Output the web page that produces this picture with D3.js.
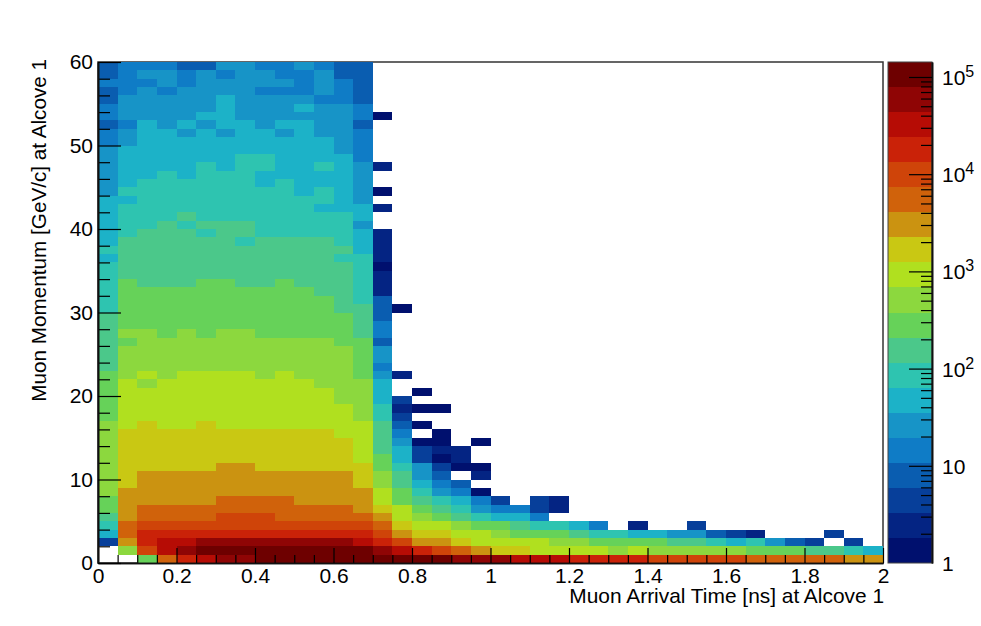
<!DOCTYPE html>
<html>
<head>
<meta charset="utf-8">
<script src="https://cdn.jsdelivr.net/npm/d3@7"></script>
<style>
html,body{margin:0;padding:0;background:#fff;}
svg{display:block;}
text{font-family:"Liberation Sans",Arial,sans-serif;fill:#000;}
</style>
</head>
<body>
<div id="chart"></div>
<script>
const xBinWidth = 0.05;
const yBinWidth = 1;
const xMajorTicks = [0, 0.2, 0.4, 0.6, 0.8, 1, 1.2, 1.4, 1.6, 1.8, 2];
const yMajorTicks = [0, 10, 20, 30, 40, 50, 60];
const xTitle = "Muon Arrival Time [ns] at Alcove 1";
const yTitle = "Muon Momentum [GeV/c] at Alcove 1";
const zMax = 142600;
const palette = ["#00106e","#042483","#073f9a","#0a5db0","#0f7cc6","#1794c7","#1cb2c8","#2ec4b0","#4bc88a","#66d259",
                 "#8cd83e","#b0e01f","#c9c813","#cb9311","#d0620b","#cf4409","#ca2208","#b60c05","#8f0505","#6e0000"];

// Counts per (time bin) for each momentum bin, listed from the top row (59-60 GeV/c) to the bottom row (0-1 GeV/c).
const counts = [
[8,14,14,14,8,8,26,26,14,14,26,14,8,8],
[8,14,26,26,14,26,14,26,26,14,14,26,8,8],
[14,14,14,26,14,26,26,26,26,26,14,26,14,8],
[8,14,26,14,26,26,26,26,14,14,14,26,14,8],
[8,26,26,26,26,26,47,26,26,26,26,14,14,8],
[14,26,26,26,26,26,47,26,26,26,47,26,26,14],
[14,26,26,26,26,47,47,26,26,26,26,26,26,14,1],
[8,14,47,26,47,26,47,47,26,47,47,26,26,8],
[14,26,47,47,26,47,26,47,47,26,47,26,26,14],
[14,26,47,47,47,47,47,47,47,47,47,47,26,14],
[26,47,47,47,47,47,47,47,47,47,47,47,26,14],
[26,47,47,47,47,47,47,86,86,47,47,47,47,14],
[26,47,47,47,47,86,47,86,86,47,47,86,47,26,2],
[26,47,47,86,47,86,86,86,47,47,47,47,47,26],
[26,47,86,86,86,86,86,86,47,86,47,47,47,26],
[26,86,86,86,86,86,86,86,86,86,47,86,47,26,1],
[47,47,86,86,86,86,86,86,86,86,86,86,47,26],
[47,86,86,86,86,86,86,86,86,86,86,47,47,47,2],
[47,86,86,86,155,86,86,86,86,86,86,86,86,47],
[47,86,86,155,86,155,155,155,86,86,86,86,86,26],
[47,86,155,155,155,86,155,155,86,86,86,86,86,47,2],
[47,155,155,155,155,155,155,86,155,155,155,155,86,47,2],
[86,155,155,155,155,155,155,155,155,155,155,155,155,47,2],
[47,155,155,155,155,155,155,155,155,155,155,155,86,86,2],
[86,155,155,155,155,155,155,155,155,155,155,155,155,86,1],
[86,155,155,155,155,155,155,155,155,155,155,155,155,86,2],
[86,280,155,155,155,280,280,155,155,280,155,155,155,86,2],
[86,280,280,280,280,280,280,280,280,280,280,155,155,86,2],
[86,280,280,280,280,280,280,280,280,280,280,280,155,86,8],
[86,280,280,280,280,280,280,280,280,280,280,280,155,155,8,1],
[155,280,280,280,280,280,280,280,280,280,280,280,280,155,8],
[155,280,280,280,280,280,280,280,280,280,280,280,280,155,14],
[155,510,510,280,510,280,510,510,280,280,280,280,280,155,14],
[155,280,510,510,510,510,510,510,510,510,510,510,280,280,8],
[155,510,510,510,510,510,510,510,510,510,510,510,510,280,26],
[155,510,510,510,510,510,510,510,510,510,510,510,510,280,26],
[155,510,510,510,510,510,510,510,510,510,510,510,510,280,14],
[280,510,920,510,920,920,920,920,510,920,510,510,510,280,26,2],
[280,920,510,920,920,920,920,920,920,920,920,510,510,510,47],
[280,920,920,920,920,920,920,920,920,920,920,920,510,510,47,0,1],
[280,920,920,920,920,920,920,920,920,920,920,920,510,510,47,4],
[280,920,920,920,920,920,920,920,920,920,920,920,920,510,86,2,1,1],
[280,920,920,920,920,920,920,920,920,920,920,920,920,510,86,4],
[510,920,1670,920,920,1670,920,920,920,920,920,920,920,920,155,8,1],
[510,1670,1670,1670,1670,1670,1670,1670,1670,1670,1670,1670,920,920,155,14,0,1],
[510,1670,1670,1670,1670,1670,1670,1670,1670,1670,1670,1670,1670,920,155,26,1,1,0,1],
[510,1670,1670,1670,1670,1670,1670,1670,1670,1670,1670,1670,1670,920,155,47,4,2,2],
[510,1670,1670,1670,1670,1670,1670,1670,1670,1670,1670,1670,1670,920,280,47,4,1,2],
[510,1670,1670,1670,1670,1670,3000,3000,1670,1670,1670,1670,1670,1670,280,86,26,4,1,1],
[510,1670,3000,3000,3000,3000,3000,3000,3000,3000,3000,3000,3000,1670,510,155,26,8,0,2],
[510,1670,3000,3000,3000,3000,3000,3000,3000,3000,3000,3000,3000,1670,510,155,47,14,8],
[510,3000,3000,3000,3000,3000,3000,3000,3000,3000,3000,3000,3000,3000,920,280,86,26,14,1],
[280,3000,3000,3000,3000,3000,5450,5450,5450,5450,3000,3000,3000,3000,920,280,155,86,47,14,4,0,4,2],
[280,3000,5450,5450,5450,5450,5450,5450,5450,5450,5450,5450,5450,3000,1670,920,280,155,86,26,14,14,4,2],
[155,3000,5450,5450,5450,5450,9900,9900,9900,5450,5450,5450,5450,5450,3000,920,510,280,155,86,47,47,14],
[86,5450,9900,9900,9900,9900,9900,9900,9900,9900,9900,9900,9900,9900,5450,1670,920,920,510,280,280,155,86,86,47,14,0,2,0,0,4],
[47,5450,17900,17900,17900,17900,17900,17900,17900,17900,17900,17900,17900,17900,9900,3000,1670,1670,920,920,510,280,280,280,155,86,86,47,47,26,26,8,4,2,0,0,0,4],
[4,3000,17900,32400,32400,58700,58700,58700,58700,58700,58700,58700,58700,32400,17900,9900,3000,3000,1670,920,920,920,920,510,510,280,280,280,280,155,155,86,47,86,26,8,4,0,4],
[0,510,9900,32400,58700,106000,106000,106000,106000,106000,106000,106000,106000,106000,58700,32400,17900,9900,5450,3000,1670,1670,920,920,920,920,510,920,510,510,510,510,510,280,280,280,155,155,86,47],
[0,0,280,5450,17900,32400,58700,58700,106000,106000,106000,106000,106000,106000,106000,106000,106000,106000,58700,58700,58700,32400,32400,32400,17900,17900,17900,17900,9900,9900,9900,9900,9900,5450,5450,5450,5450,5450,3000,3000]
];

const width = 981, height = 626;
const plot = {left: 98, right: 883, top: 62, bottom: 563};
const bar = {left: 888, right: 932};

const x = d3.scaleLinear().domain([0, 2]).range([plot.left, plot.right]);
const y = d3.scaleLinear().domain([0, 60]).range([plot.bottom, plot.top]);
const z = d3.scaleLog().domain([1, zMax]).range([plot.bottom, plot.top]);
const color = d3.scaleQuantize().domain([0, Math.log10(zMax)]).range(palette);

const svg = d3.select("#chart").append("svg").attr("width", width).attr("height", height);

// frame
svg.append("rect").attr("x", plot.left).attr("y", plot.top)
  .attr("width", plot.right - plot.left).attr("height", plot.bottom - plot.top)
  .attr("fill", "#fff").attr("stroke", "#333").attr("stroke-width", 1.5);

// cells
const nRows = counts.length;
const cells = counts.flatMap((row, r) => row.map((v, c) => ({c, lo: nRows - 1 - r, v}))).filter(d => d.v > 0);
svg.append("g").attr("shape-rendering", "crispEdges").selectAll("rect").data(cells).join("rect")
  .attr("x", d => x(d.c * xBinWidth))
  .attr("y", d => y((d.lo + 1) * yBinWidth))
  .attr("width", d => x((d.c + 1) * xBinWidth) - x(d.c * xBinWidth))
  .attr("height", d => y(d.lo * yBinWidth) - y((d.lo + 1) * yBinWidth))
  .attr("fill", d => color(Math.log10(d.v)));

// axes
function styleAxis(g) {
  g.selectAll("line").attr("stroke", "#000").attr("stroke-width", 1.2);
  g.selectAll("path").attr("stroke", "#111").attr("stroke-width", 1.6);
  g.selectAll("text").attr("font-size", 21).attr("font-family", '"Liberation Sans",Arial,sans-serif');
}
const xMinor = d3.range(0, 41).map(i => i * xBinWidth).filter(v => !xMajorTicks.some(t => Math.abs(t - v) < 1e-6));
svg.append("g").attr("transform", `translate(0,${plot.bottom})`)
  .call(d3.axisBottom(x).tickValues(xMinor).tickSize(-8).tickSizeOuter(0).tickFormat(""))
  .call(styleAxis);
svg.append("g").attr("transform", `translate(0,${plot.bottom})`)
  .call(d3.axisBottom(x).tickValues(xMajorTicks).tickSize(-15).tickSizeOuter(0).tickFormat(d3.format("~g")))
  .call(styleAxis)
  .call(g => g.selectAll("text").attr("y", 20).attr("dy", 0));

const yMinor = d3.range(0, 61, 2).filter(v => v % 10 !== 0);
svg.append("g").attr("transform", `translate(${plot.left},0)`)
  .call(d3.axisLeft(y).tickValues(yMinor).tickSize(-12).tickSizeOuter(0).tickFormat(""))
  .call(styleAxis);
svg.append("g").attr("transform", `translate(${plot.left},0)`)
  .call(d3.axisLeft(y).tickValues(yMajorTicks).tickSize(-23).tickSizeOuter(0).tickPadding(5).tickFormat(d3.format("d")))
  .call(styleAxis);

// axis titles
svg.append("text").attr("x", 884).attr("y", 603).attr("text-anchor", "end")
  .attr("font-size", 20.9).text(xTitle);
svg.append("text").attr("transform", "translate(46,59) rotate(-90)").attr("text-anchor", "end")
  .attr("font-size", 20.7).text(yTitle);

// colour bar
const levels = d3.range(palette.length);
const step = Math.log10(zMax) / palette.length;
svg.append("g").attr("shape-rendering", "crispEdges").selectAll("rect").data(levels).join("rect")
  .attr("x", bar.left)
  .attr("y", k => z(Math.pow(10, (k + 1) * step)))
  .attr("width", bar.right - bar.left)
  .attr("height", k => z(Math.pow(10, k * step)) - z(Math.pow(10, (k + 1) * step)))
  .attr("fill", k => palette[k]);
svg.append("rect").attr("x", bar.left).attr("y", plot.top)
  .attr("width", bar.right - bar.left).attr("height", plot.bottom - plot.top)
  .attr("fill", "none").attr("stroke", "#444").attr("stroke-width", 1);

const decades = [1, 10, 100, 1000, 10000, 100000];
const zMinor = decades.flatMap(d => d3.range(2, 10).map(m => m * d)).filter(v => v <= zMax);
const zMajorTicks = decades.filter(d => d > 1);
svg.append("g").attr("transform", `translate(${bar.right},0)`)
  .call(d3.axisRight(z).tickValues(zMinor).tickSize(-11).tickSizeOuter(0).tickFormat(""))
  .call(styleAxis);
svg.append("g").attr("transform", `translate(${bar.right},0)`)
  .call(d3.axisRight(z).tickValues(zMajorTicks).tickSize(-23).tickSizeOuter(0).tickFormat(""))
  .call(styleAxis);

const zLabels = svg.append("g").selectAll("text").data(decades).join("text")
  .attr("x", 942).attr("y", d => z(d) + 8).attr("font-size", 21);
zLabels.append("tspan").text(d => d >= 100 ? "10" : String(d));
zLabels.filter(d => d >= 100).append("tspan")
  .attr("dy", -8).attr("font-size", 16).text(d => Math.round(Math.log10(d)));
</script>
</body>
</html>
